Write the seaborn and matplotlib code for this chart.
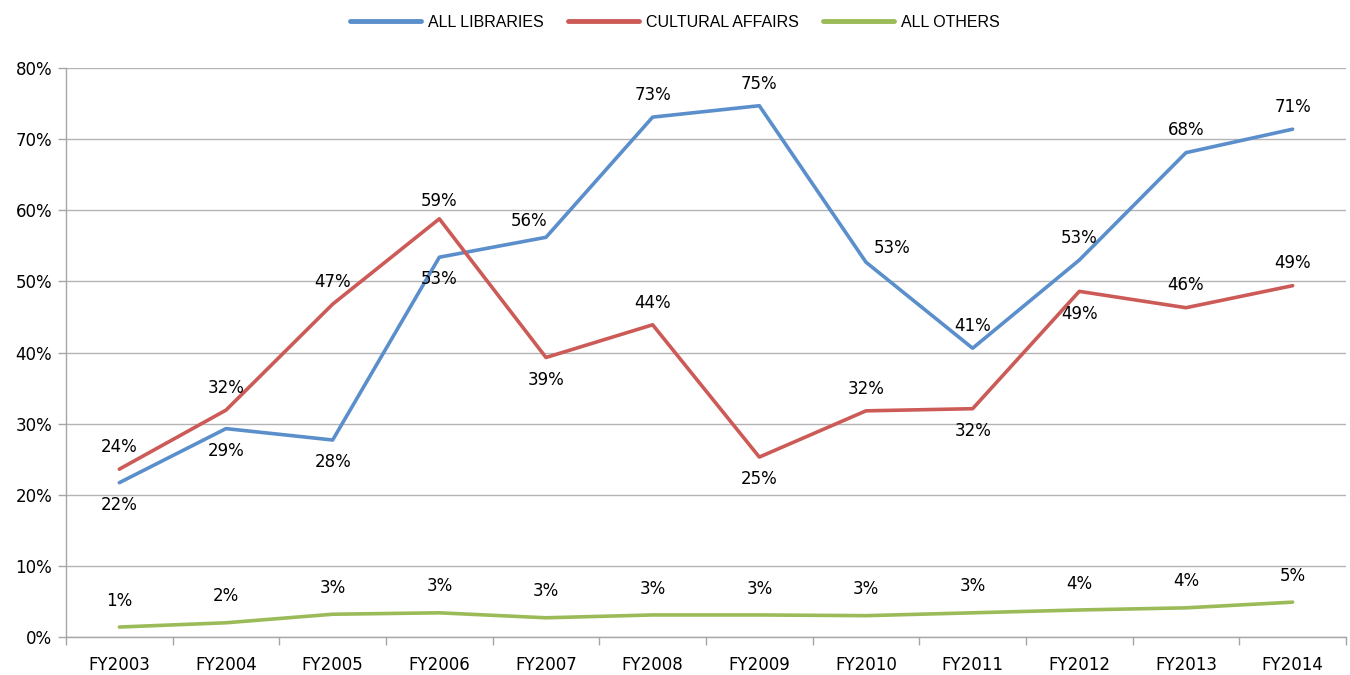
import matplotlib
matplotlib.use("Agg")
import matplotlib.pyplot as plt
import seaborn as sns
import pandas as pd
from matplotlib.ticker import FixedLocator

years = ["FY2003", "FY2004", "FY2005", "FY2006", "FY2007", "FY2008",
         "FY2009", "FY2010", "FY2011", "FY2012", "FY2013", "FY2014"]
all_libraries = [21.7, 29.3, 27.7, 53.4, 56.2, 73.1, 74.7, 52.7, 40.6, 53.0, 68.1, 71.4]
cultural_affairs = [23.6, 31.9, 46.8, 58.8, 39.3, 43.9, 25.3, 31.8, 32.1, 48.6, 46.3, 49.4]
all_others = [1.4, 2.0, 3.2, 3.4, 2.7, 3.1, 3.1, 3.0, 3.4, 3.8, 4.1, 4.9]
series_names = ["ALL LIBRARIES", "CULTURAL AFFAIRS", "ALL OTHERS"]
colors = ["#5A8FCB", "#CC5B57", "#9BBB59"]
# label placement: +1 above, -1 below
blue_pos = [-1, -1, -1, -1, 1, 1, 1, 1, 1, 1, 1, 1]
red_pos = [1, 1, 1, 1, -1, 1, -1, 1, -1, -1, 1, 1]
green_pos = [1] * 12

sns.set_theme(style="white")
plt.rcParams['font.family'] = ['DejaVu Sans']

rows = []
for name, vals in zip(series_names, [all_libraries, cultural_affairs, all_others]):
    for i, v in enumerate(vals):
        rows.append({"x": i, "value": v, "series": name})
df = pd.DataFrame(rows)

fig = plt.figure(figsize=(13.5, 6.75), dpi=100)
ax = fig.add_axes([0.0489, 0.0563, 0.9481, 0.8429])
sns.lineplot(data=df, x="x", y="value", hue="series", hue_order=series_names,
             palette=colors, linewidth=2.6, ax=ax, legend=False)

ax.set_xlim(-0.5, 11.5)
ax.set_ylim(0, 80)
ax.set_yticks(range(0, 81, 10))
ax.set_yticklabels([f"{v}%" for v in range(0, 81, 10)], fontsize=12)
ax.set_xticks(range(12))
ax.set_xticklabels(years, fontsize=12)
ax.xaxis.set_minor_locator(FixedLocator([i - 0.5 for i in range(13)]))
ax.tick_params(axis="x", which="major", length=0, pad=14, labelcolor="black")
ax.tick_params(axis="x", which="minor", length=6, color="#A6A6A6", width=1.0, bottom=True)
ax.tick_params(axis="y", length=6, color="#A6A6A6", width=1.0, left=True, pad=4, labelcolor="black")
ax.set_xlabel("")
ax.set_ylabel("")
ax.grid(axis="y", color="#B4B4B4", linewidth=1.0)
ax.set_axisbelow(True)
for s in ["top", "right"]:
    ax.spines[s].set_visible(False)
for s in ["left", "bottom"]:
    ax.spines[s].set_color("#A6A6A6")
    ax.spines[s].set_linewidth(1.0)

special = {("b", 7): (19, 10), ("b", 4): (-12, 12), ("r", 3): (0, 13)}
for key, vals, pos, off in [("b", all_libraries, blue_pos, 16), ("r", cultural_affairs, red_pos, 16),
                            ("g", all_others, green_pos, 19)]:
    for i, (v, p) in enumerate(zip(vals, pos)):
        dx, dy = special.get((key, i), (0, off * p))
        ax.annotate(f"{round(v):.0f}%", (i, v), xytext=(dx, dy), textcoords="offset points",
                    ha="center", va="center", fontsize=12, color="black")

handles = [plt.Line2D([], [], color=c, linewidth=3.5) for c in colors]
leg = fig.legend(handles, series_names, loc="center", bbox_to_anchor=(0.5, 0.967), ncol=3,
                 frameon=False, handlelength=4.45, handletextpad=0.45, columnspacing=1.5,
                 prop={"family": ["Liberation Sans", "DejaVu Sans"], "size": 11.5})
for t in leg.get_texts():
    t.set_color("black")

fig.savefig("out.png", dpi=100)
